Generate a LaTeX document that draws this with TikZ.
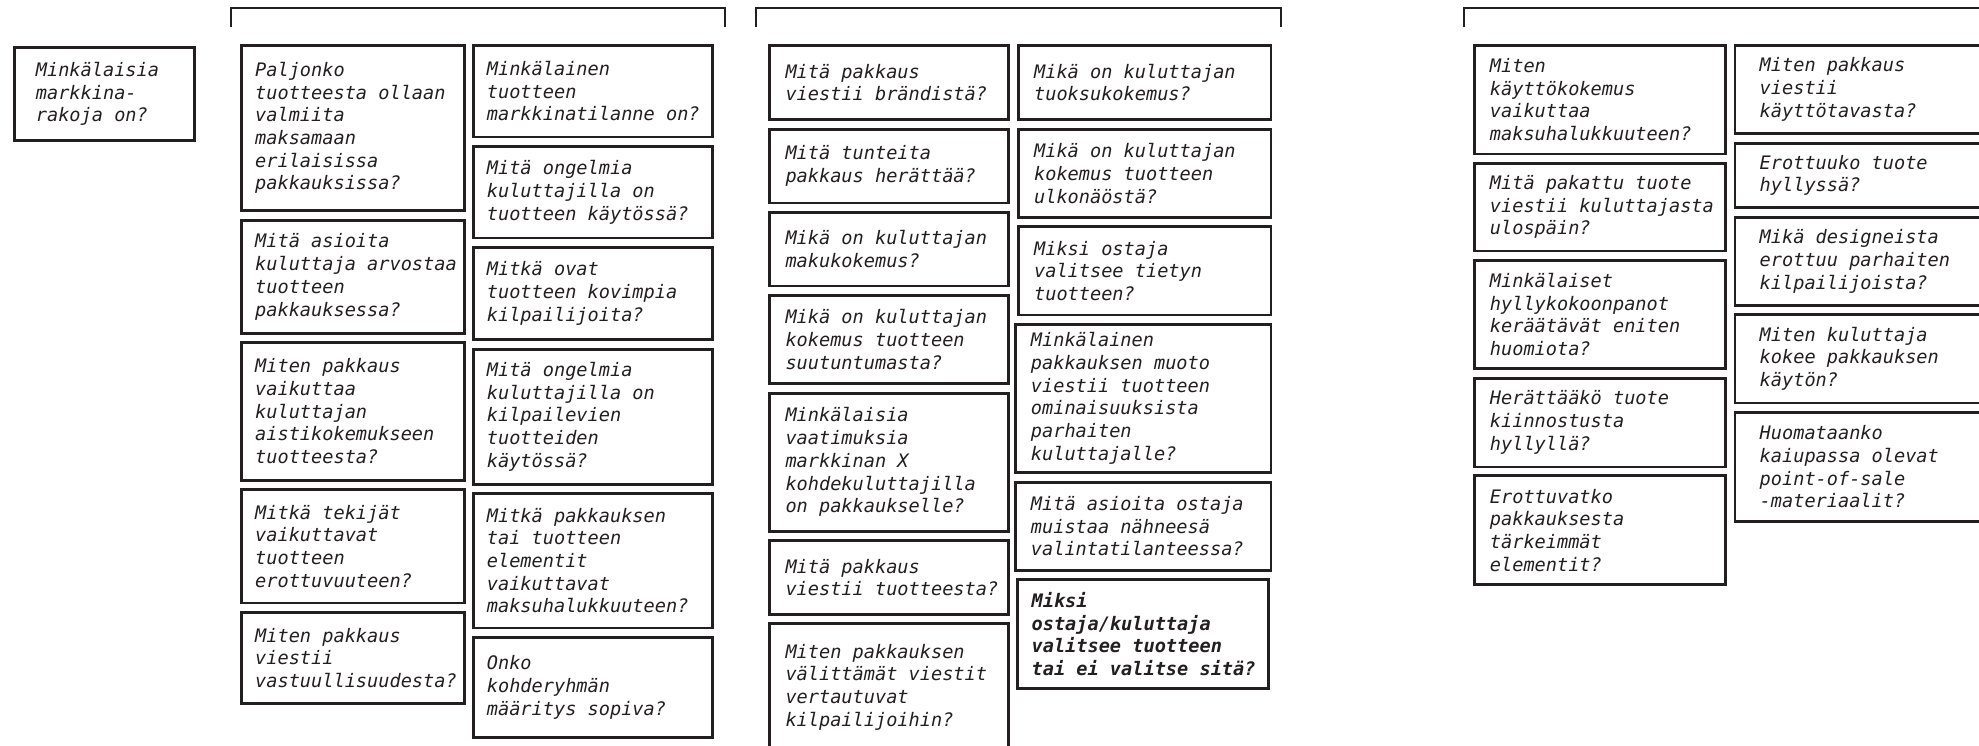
\documentclass[tikz,border=0pt]{standalone}
\usepackage{fontspec}
\setmonofont{DejaVu Sans Mono}
\begin{document}
\begin{tikzpicture}[x=1pt,y=-1pt,
  card/.style={draw=ink, line width=2.8pt, rectangle, inner sep=0pt, outer sep=0pt},
  cardtext/.style={inner sep=0pt, align=left, text=ink,
    font=\ttfamily\itshape\fontsize{18.6}{22.7}\selectfont},
  brace/.style={draw=ink, line width=2.2pt}]
\definecolor{ink}{HTML}{231F20}
% card: name, left, top, right, bottom, text indent, text
\newcommand\qcard[7]{%
  \node[card, minimum width={#4-#2-2.8}, minimum height={#5-#3-2.8}]
    (#1) at ({(#2+#4)/2},{(#3+#5)/2}) {};
  \node[cardtext, anchor=west] (#1-t) at ([xshift={#6-2.4}]#1.west) {#7};
}
\useasboundingbox (0,0) rectangle (1979,745);
\clip (0,0) rectangle (1979,745);

% group brackets
\draw[brace] (231.3,27.3) |- (725.3,7.6) -- (725.3,27.3);
\draw[brace] (756.2,27.3) |- (1281.3,7.6) -- (1281.3,27.3);
\draw[brace] (1464.1,27.3) |- (2000,7.6);

% stand-alone question
\qcard{m}{12.7}{46}{195.7}{141.7}{24}{Minkälaisia\\markkina-\\rakoja on?}

% group 1, left column
\qcard{a1}{240}{44}{466}{212}{16}{Paljonko\\tuotteesta ollaan\\valmiita\\maksamaan\\erilaisissa\\pakkauksissa?}
\qcard{a2}{240}{218.7}{466}{335}{16}{Mitä asioita\\kuluttaja arvostaa\\tuotteen\\pakkauksessa?}
\qcard{a3}{240}{341}{466}{481.7}{16}{Miten pakkaus\\vaikuttaa\\kuluttajan\\aistikokemukseen\\tuotteesta?}
\qcard{a4}{240}{488}{466}{604.3}{16}{Mitkä tekijät\\vaikuttavat\\tuotteen\\erottuvuuteen?}
\qcard{a5}{240}{610.7}{466}{705}{16}{Miten pakkaus\\viestii\\vastuullisuudesta?}

% group 1, right column
\qcard{b1}{472.3}{44}{714}{138.3}{15.4}{Minkälainen\\tuotteen\\markkinatilanne on?}
\qcard{b2}{472.3}{145}{714}{239.3}{15.4}{Mitä ongelmia\\kuluttajilla on\\tuotteen käytössä?}
\qcard{b3}{472.3}{246}{714}{341}{15.4}{Mitkä ovat\\tuotteen kovimpia\\kilpailijoita?}
\qcard{b4}{472.3}{347.7}{714}{485.7}{15.4}{Mitä ongelmia\\kuluttajilla on\\kilpailevien\\tuotteiden\\käytössä?}
\qcard{b5}{472.3}{491.7}{714}{629.3}{15.4}{Mitkä pakkauksen\\tai tuotteen\\elementit\\vaikuttavat\\maksuhalukkuuteen?}
\qcard{b6}{472.3}{636}{714}{739}{15.4}{Onko\\kohderyhmän\\määritys sopiva?}

% group 2, left column
\qcard{c1}{768.3}{44}{1010}{121}{18}{Mitä pakkaus\\viestii brändistä?}
\qcard{c2}{768.3}{127.7}{1010}{204.3}{18}{Mitä tunteita\\pakkaus herättää?}
\qcard{c3}{768.3}{210.7}{1010}{287.3}{18}{Mikä on kuluttajan\\makukokemus?}
\qcard{c4}{768.3}{294}{1010}{385}{18}{Mikä on kuluttajan\\kokemus tuotteen\\suutuntumasta?}
\qcard{c5}{768.3}{391.7}{1010}{532.7}{18}{Minkälaisia\\vaatimuksia\\markkinan X\\kohdekuluttajilla\\on pakkaukselle?}
\qcard{c6}{768.3}{539}{1010}{616}{18}{Mitä pakkaus\\viestii tuotteesta?}
\qcard{c7}{768.3}{622.3}{1010}{752}{18}{Miten pakkauksen\\välittämät viestit\\vertautuvat\\kilpailijoihin?}

% group 2, right column
\qcard{d1}{1016.9}{44}{1272.4}{121}{18}{Mikä on kuluttajan\\tuoksukokemus?}
\qcard{d2}{1016.9}{127.7}{1272.4}{219}{18}{Mikä on kuluttajan\\kokemus tuotteen\\ulkonäöstä?}
\qcard{d3}{1016.9}{225.3}{1272.4}{316.3}{18}{Miksi ostaja\\valitsee tietyn\\tuotteen?}
\qcard{d4}{1014.1}{322.7}{1272.4}{474}{17.6}{Minkälainen\\pakkauksen muoto\\viestii tuotteen\\ominaisuuksista\\parhaiten\\kuluttajalle?}
\qcard{d5}{1014.1}{480.7}{1272.4}{571.7}{17.6}{Mitä asioita ostaja\\muistaa nähneesä\\valintatilanteessa?}
\qcard{d6}{1015.8}{578}{1270}{690}{16.6}{\bfseries Miksi\\\bfseries ostaja/kuluttaja\\\bfseries valitsee tuotteen\\\bfseries tai ei valitse sitä?}

% group 3, left column
\qcard{e1}{1472.7}{44}{1727}{155.3}{18}{Miten\\käyttökokemus\\vaikuttaa\\maksuhalukkuuteen?}
\qcard{e2}{1472.7}{161.7}{1727}{252.3}{18}{Mitä pakattu tuote\\viestii kuluttajasta\\ulospäin?}
\qcard{e3}{1472.7}{259}{1727}{370}{18}{Minkälaiset\\hyllykokoonpanot\\keräätävät eniten\\huomiota?}
\qcard{e4}{1472.7}{376.7}{1727}{468.3}{18}{Herättääkö tuote\\kiinnostusta\\hyllyllä?}
\qcard{e5}{1472.7}{474.3}{1727}{586}{18}{Erottuvatko\\pakkauksesta\\tärkeimmät\\elementit?}

% group 3, right column
\qcard{f1}{1733.5}{44}{1995}{135}{27}{Miten pakkaus\\viestii\\käyttötavasta?}
\qcard{f2}{1733.5}{141.7}{1995}{209}{27}{Erottuuko tuote\\hyllyssä?}
\qcard{f3}{1733.5}{216}{1995}{306.7}{27}{Mikä designeista\\erottuu parhaiten\\kilpailijoista?}
\qcard{f4}{1733.5}{313.3}{1995}{404.3}{27}{Miten kuluttaja\\kokee pakkauksen\\käytön?}
\qcard{f5}{1733.5}{411}{1995}{522.7}{27}{Huomataanko\\kaiupassa olevat\\point-of-sale\\-materiaalit?}
\end{tikzpicture}
\end{document}
